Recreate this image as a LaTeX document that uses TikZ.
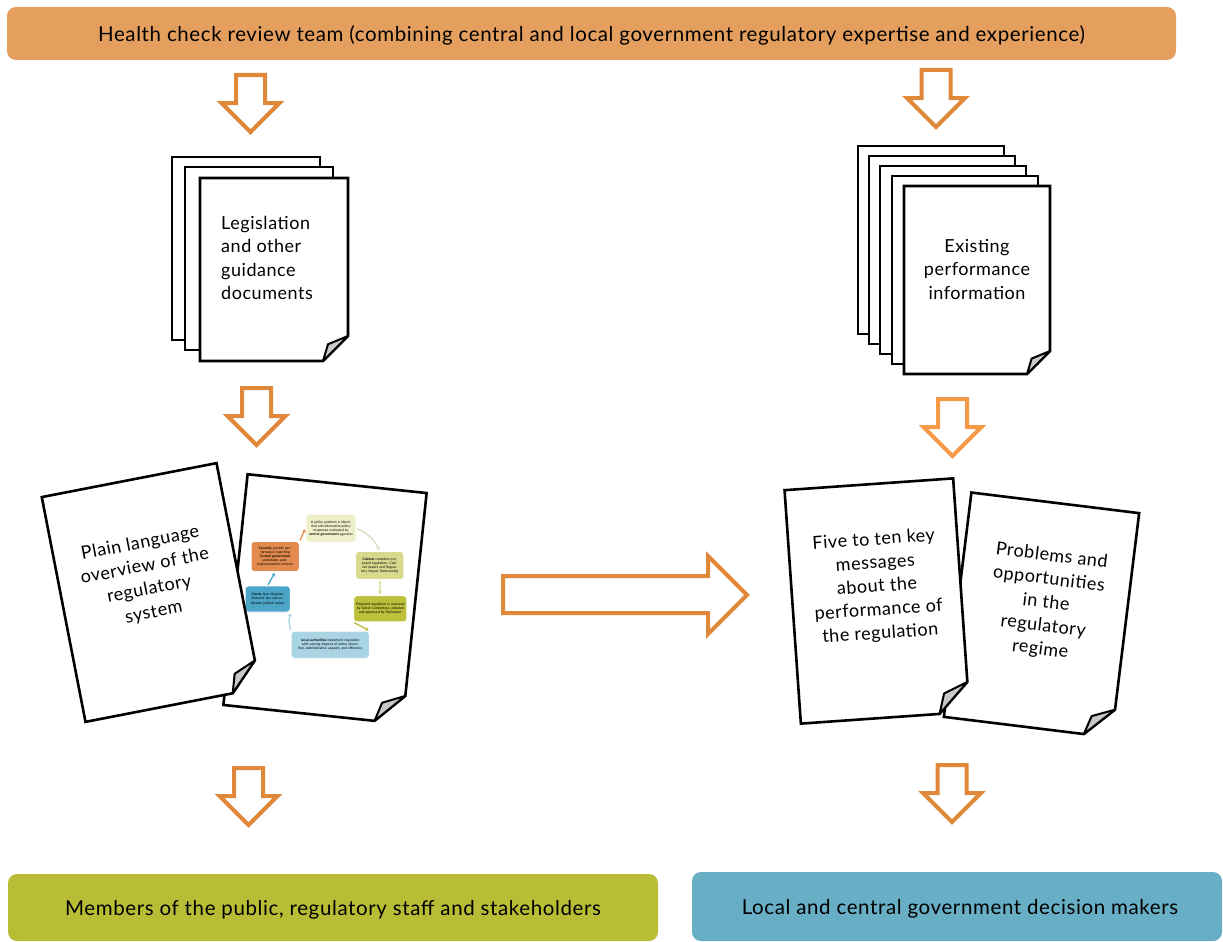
\documentclass[tikz,border=0pt]{standalone}
\usepackage{fontspec}
\setmainfont{Lato}
\usetikzlibrary{arrows.meta}

\definecolor{teamorange}{HTML}{E49F5E}
\definecolor{arroworange}{HTML}{E0883A}
\definecolor{lightorange}{HTML}{F59A45}
\definecolor{publicgreen}{HTML}{B9BD35}
\definecolor{makerblue}{HTML}{68AEC4}
\definecolor{foldgrey}{HTML}{C8C8C8}
\definecolor{cycpale}{HTML}{EEF0CA}
\definecolor{cyccabinet}{HTML}{D7DA8C}
\definecolor{cycolive}{HTML}{BCC03A}
\definecolor{cycsky}{HTML}{A8D4E4}
\definecolor{cycblue}{HTML}{4CA5C6}
\definecolor{cycorange}{HTML}{E38B4F}

\tikzset{
  band/.style={rounded corners=9pt, inner sep=0pt, text height=18pt, text depth=2pt,
    font=\fontsize{20.5}{24}\selectfont\addfontfeatures{LetterSpace=3}},
  sheet/.style={draw=black, fill=white, line width=2.6pt, line join=miter},
  flap/.style={draw=black, fill=foldgrey, line width=2pt, line join=round},
  sheettext/.style={font=\fontsize{18}{23.5}\selectfont\addfontfeatures{LetterSpace=3},
    align=center, inner sep=0pt},
  hollow/.style={draw=#1, fill=white, line width=4pt, line join=miter},
  cyclebox/.style={draw=white, line width=0.8pt, rounded corners=3pt, inner sep=1pt,
    align=center, font=\fontsize{3.4}{4.1}\selectfont},
  cyclearrow/.style={line width=1.3pt, -{Stealth[length=3.5pt,width=4pt]}, shorten >=1pt, shorten <=1pt}
}

\begin{document}
\begin{tikzpicture}[x=1pt, y=1pt]

\useasboundingbox (0,0) rectangle (1223,-942);

% Review team band
\node[band, fill=teamorange, minimum width=1169pt, minimum height=53pt] (team) at (591.5,-33.5)
  {Health check review team (combining central and local government regulatory expertise and experience)};

% Audience bands
\node[band, fill=publicgreen, minimum width=650pt, minimum height=67pt] (public) at (333,-907.5)
  {Members of the public, regulatory staff and stakeholders};
\node[band, fill=makerblue, minimum width=530pt, minimum height=69pt] (makers) at (957,-906.5)
  {\hspace{6pt}Local and central government decision makers};

% Down arrows (centre x / top y / colour)
\foreach \cx/\ty/\col in {250.5/75/arroworange, 936/70/arroworange, 256.5/388/arroworange,
                          952.5/399/lightorange, 248.5/768/arroworange, 952/765/arroworange}
{
    \draw[hollow=\col] ({\cx-14.5},{-\ty}) -- ({\cx+14.5},{-\ty}) -- ({\cx+14.5},{-\ty-28})
        -- ({\cx+29},{-\ty-28}) -- (\cx,{-\ty-57}) -- ({\cx-29},{-\ty-28})
        -- ({\cx-14.5},{-\ty-28}) -- cycle;
}

% Right arrow
\draw[hollow=arroworange] (503,-576) -- (708,-576) -- (708,-556) -- (747,-595)
    -- (708,-634) -- (708,-613) -- (503,-613) -- cycle;

% Back sheets of the two stacks
\foreach \x/\y in {172/157, 185/167}
{
    \draw[sheet] (\x,-\y) rectangle ++(148,-183);
}
\foreach \x/\y in {858/146, 869/156, 880/166, 892/176}
{
    \draw[sheet] (\x,-\y) rectangle ++(146,-188);
}

% Folded sheets: stack fronts and the tilted page with the cycle
\foreach \cx/\cy/\w/\h/\f/\ang in {274/-269.5/148/183/25/0, 977/-280/146/188/23/0, 325/-599/180/232/28/-6}
{
    \begin{scope}[shift={(\cx,\cy)}, rotate=\ang]
        \draw[sheet] ({-\w/2},{\h/2}) -- ({\w/2},{\h/2}) -- ({\w/2},{-\h/2+\f})
            -- ({\w/2-\f},{-\h/2}) -- ({-\w/2},{-\h/2}) -- cycle;
        \draw[flap] ({\w/2},{-\h/2+\f}) -- ({\w/2-0.8*\f},{-\h/2+0.67*\f}) -- ({\w/2-\f},{-\h/2}) -- cycle;
    \end{scope}
}

% Small policy cycle printed on the tilted page
\begin{scope}[shift={(325,-599)}, rotate=-6]
    \node[cyclebox, fill=cycpale, text width=48pt, minimum height=28pt] (identify) at (-1.5,71)
      {A policy problem is identified and alternative policy responses evaluated by \textbf{central government} agencies};
    \node[cyclebox, fill=cyccabinet, text width=46pt, minimum height=28pt] (cabinet) at (51,39)
      {\textbf{Cabinet} considers proposed regulation: Cabinet papers and Regulatory Impact Statement(s)};
    \node[cyclebox, fill=cycolive, text width=51pt, minimum height=26pt] (parliament) at (56,-4)
      {Proposed regulation is reviewed by Select Committees, debated and approved by Parliament};
    \node[cyclebox, fill=cycsky, text width=76pt, minimum height=27pt] (councils) at (10,-45)
      {\textbf{Local authorities} implement regulation with varying degrees of policy discretion, administrative capacity and efficiency};
    \node[cyclebox, fill=cycblue, text width=43pt, minimum height=26pt] (courts) at (-57,-6)
      {\textbf{Courts} hear disputes, interpret law and undertake judicial review};
    \node[cyclebox, fill=cycorange, text width=46pt, minimum height=30pt] (review) at (-54,37)
      {\textbf{Councils} provide performance reporting\\ \textbf{Central government} undertakes post-implementation reviews};

    \draw[cyclearrow, cycpale!80!gray] (identify.east) to[bend left=20] (cabinet.north);
    \draw[cyclearrow, cyccabinet] (cabinet.south) -- (parliament.north);
    \draw[cyclearrow, cycolive] (parliament.south west) -- (councils.north east);
    \draw[cyclearrow, cycsky] (councils.north west) to[bend left=15] (courts.south east);
    \draw[cyclearrow, cycblue] (courts.north) -- (review.south);
    \draw[cyclearrow, cycorange] (review.north east) -- (identify.west);
\end{scope}

% Remaining tilted sheets
\foreach \cx/\cy/\w/\h/\f/\ang in {151/-592.5/178/229/28/11, 1041.5/-615/169/226/28/-7, 877/-601/169/234/30/4}
{
    \begin{scope}[shift={(\cx,\cy)}, rotate=\ang]
        \draw[sheet] ({-\w/2},{\h/2}) -- ({\w/2},{\h/2}) -- ({\w/2},{-\h/2+\f})
            -- ({\w/2-\f},{-\h/2}) -- ({-\w/2},{-\h/2}) -- cycle;
        \draw[flap] ({\w/2},{-\h/2+\f}) -- ({\w/2-0.8*\f},{-\h/2+0.67*\f}) -- ({\w/2-\f},{-\h/2}) -- cycle;
    \end{scope}
}

% Sheet texts
\node[sheettext, align=left, anchor=west] (legislation) at (221,-258)
  {Legislation\\and other\\guidance\\documents};
\node[sheettext] (existing) at (977,-269)
  {Existing\\performance\\information};
\node[sheettext, rotate=11] (overview) at (147,-578)
  {Plain language\\overview of the\\regulatory\\system};
\node[sheettext, rotate=4] (messages) at (877,-587)
  {Five to ten key\\messages\\about the\\performance of\\the regulation};
\node[sheettext, rotate=-7] (problems) at (1046,-603)
  {Problems and\\opportunities\\in the\\regulatory\\regime};

\end{tikzpicture}
\end{document}
